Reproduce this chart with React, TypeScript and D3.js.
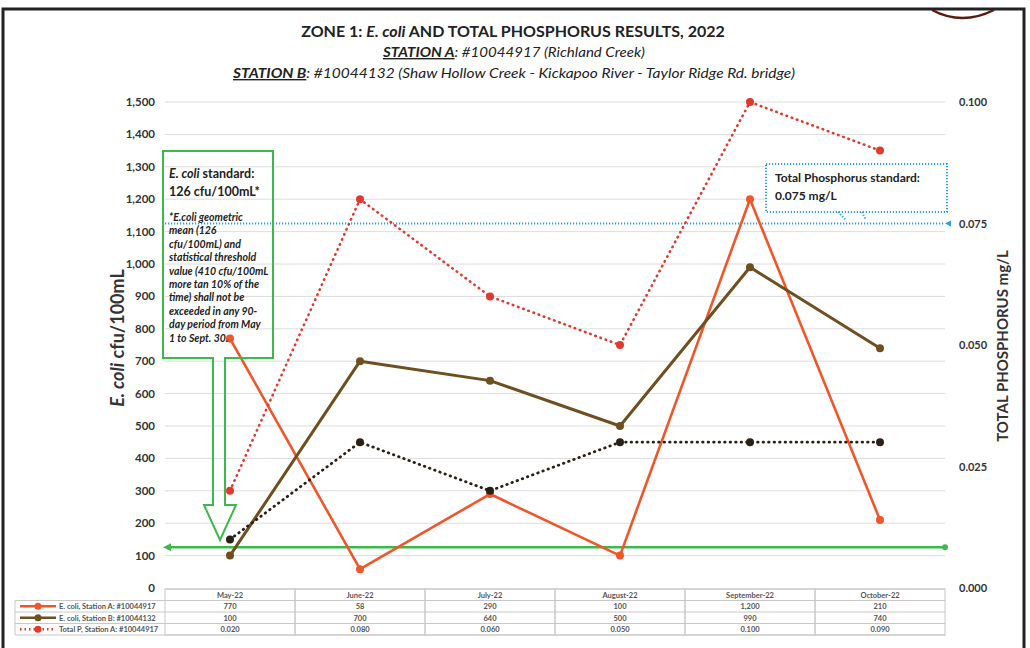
import React from 'react';
import * as d3 from 'd3';

const months = ['May-22', 'June-22', 'July-22', 'August-22', 'September-22', 'October-22'];
const ecoliA = [770, 58, 290, 100, 1200, 210];
const ecoliB = [100, 700, 640, 500, 990, 740];
const totalPA = [0.02, 0.08, 0.06, 0.05, 0.1, 0.09];
const totalPB = [0.01, 0.03, 0.02, 0.03, 0.03, 0.03];
const leftTicks = d3.range(0, 1501, 100);
const rightTicks = [0, 0.025, 0.05, 0.075, 0.1];
const ecoliStandard = 126;
const phosStandard = 0.075;
const footnote = [
  '*E.coli geometric',
  'mean (126',
  'cfu/100mL) and',
  'statistical threshold',
  'value (410 cfu/100mL',
  'more tan 10% of the',
  'time) shall not be',
  'exceeded in any 90-',
  'day period  from May',
  '1 to Sept. 30.',
];

const FONT = 'Lato, "Open Sans", sans-serif';

export default function App() {
  const x = d3.scaleBand<string>().domain(months).range([165, 945]);
  const yL = d3.scaleLinear().domain([0, 1500]).range([588, 102]);
  const yR = d3.scaleLinear().domain([0, 0.1]).range([588, 102]);
  const cx = (m: string) => (x(m) ?? 0) + x.bandwidth() / 2;

  const lineL = d3.line<number>().x((_, i) => cx(months[i])).y(d => yL(d));
  const lineR = d3.line<number>().x((_, i) => cx(months[i])).y(d => yR(d));

  const series = [
    { name: 'E. coli, Station A: #10044917', values: ecoliA, line: lineL, y: yL, color: '#f0562a', dash: undefined, width: 2.6, fmt: d3.format(',') },
    { name: 'E. coli, Station B: #10044132', values: ecoliB, line: lineL, y: yL, color: '#6e4f1f', dash: undefined, width: 3, fmt: d3.format(',') },
    { name: 'Total P, Station A: #10044917', values: totalPA, line: lineR, y: yR, color: '#e03a2e', dash: '0.5 5', width: 2.6, fmt: d3.format('.3f') },
    { name: 'Total P, Station B: #10044132', values: totalPB, line: lineR, y: yR, color: '#2b2015', dash: '0.5 5', width: 2.8, fmt: d3.format('.3f') },
  ];
  const tableRows = series.slice(0, 3);

  const rowTop = 589;
  const rowH = 11.5;
  const tableLeft = 165;
  const tableRight = 945;

  return (
    <svg width={1030} height={648} style={{ position: 'absolute', left: 0, top: 0, background: '#fff' }} fontFamily={FONT}>
      <rect x={0} y={0} width={1030} height={648} fill="#fff" />
      {/* frame */}
      <rect x={3} y={9} width={1021} height={660} fill="none" stroke="#222" strokeWidth={3} />
      <path d="M 932 10 Q 962 26 994 10" fill="none" stroke="#5a1a10" strokeWidth={2.5} />

      {/* title */}
      <text x={513} y={37} textAnchor="middle" fontSize={16} fontWeight={700} fill="#222">
        ZONE 1: <tspan fontStyle="italic">E. coli</tspan> AND TOTAL PHOSPHORUS RESULTS, 2022
      </text>
      <text x={514} y={57} textAnchor="middle" fontSize={14} fontStyle="italic" fill="#222" textLength={262} lengthAdjust="spacingAndGlyphs">
        <tspan fontWeight={700} textDecoration="underline">STATION A</tspan>: #10044917 (Richland Creek)
      </text>
      <text x={514} y={78} textAnchor="middle" fontSize={14} fontStyle="italic" fill="#222" textLength={562} lengthAdjust="spacingAndGlyphs">
        <tspan fontWeight={700} textDecoration="underline">STATION B</tspan>: #10044132 (Shaw Hollow Creek - Kickapoo River - Taylor Ridge Rd. bridge)
      </text>

      {/* gridlines */}
      {leftTicks.slice(1).map(t => (
        <line key={t} x1={165} x2={945} y1={yL(t)} y2={yL(t)} stroke="#dcdcdc" strokeWidth={1} />
      ))}

      {/* left axis */}
      {leftTicks.map(t => (
        <text key={t} x={155} y={yL(t) + 4} textAnchor="end" fontSize={11.5} fontWeight={700} fill="#333">
          {d3.format(',')(t)}
        </text>
      ))}
      <text transform={`translate(124,338) rotate(-90)`} textAnchor="middle" fontSize={18} fontWeight={700} fill="#333">
        <tspan fontStyle="italic">E. coli</tspan> cfu/100mL
      </text>

      {/* right axis */}
      {rightTicks.map(t => (
        <text key={t} x={959} y={yR(t) + 4} textAnchor="start" fontSize={11} fontWeight={700} fill="#333">
          {d3.format('.3f')(t)}
        </text>
      ))}
      <text transform={`translate(1008,346) rotate(-90)`} textAnchor="middle" fontSize={15} fontWeight={700} fill="#333">
        TOTAL PHOSPHORUS mg/L
      </text>

      {/* standards */}
      <line x1={165} x2={945} y1={yR(phosStandard)} y2={yR(phosStandard)} stroke="#2f9fe0" strokeWidth={2} strokeDasharray="1.2 1.8" />
      <path d={`M 945 ${yR(phosStandard)} l 6 -3 v 6 z`} fill="#2f9fe0" />
      <line x1={168} x2={945} y1={yL(ecoliStandard)} y2={yL(ecoliStandard)} stroke="#3cb94a" strokeWidth={2.5} />
      <path d={`M 163 ${yL(ecoliStandard)} l 8 -4 v 8 z`} fill="#3cb94a" />
      <circle cx={945} cy={yL(ecoliStandard)} r={3} fill="#3cb94a" />

      {/* series */}
      {series.map(s => (
        <g key={s.name}>
          <path d={s.line(s.values) ?? ''} fill="none" stroke={s.color} strokeWidth={s.width} strokeDasharray={s.dash} strokeLinecap="round" strokeLinejoin="round" />
          {s.values.map((v, i) => (
            <circle key={i} cx={cx(months[i])} cy={s.y(v)} r={4} fill={s.color} />
          ))}
        </g>
      ))}

      {/* E. coli standard callout */}
      <path d="M 163 151 H 273 V 358 H 225 V 505 H 236 L 220 540 L 204 505 H 213 V 358 H 163 Z" fill="none" stroke="#3cb94a" strokeWidth={2} />
      <text x={169} y={178} fontSize={12.5} fontWeight={700} fill="#222">
        <tspan fontStyle="italic">E. coli</tspan> standard:
      </text>
      <text x={169} y={196} fontSize={12.5} fontWeight={700} fill="#222">126 cfu/100mL*</text>
      {footnote.map((l, i) => (
        <text key={i} x={169} y={221 + i * 13.4} fontSize={10.5} fontWeight={700} fontStyle="italic" fill="#222">{l}</text>
      ))}

      {/* phosphorus standard callout */}
      <rect x={766} y={164} width={181} height={48} fill="#fff" stroke="#2f9fe0" strokeWidth={2} strokeDasharray="1.2 1.8" />
      <path d="M 838 212 L 846 220 M 862 212 L 866 220" stroke="#2f9fe0" strokeWidth={2} strokeDasharray="1.2 1.8" />
      <text x={775} y={182} fontSize={12} fontWeight={700} fill="#222">Total Phosphorus standard:</text>
      <text x={775} y={200} fontSize={12} fontWeight={700} fill="#222">0.075 mg/L</text>

      {/* data table */}
      <g fontSize={7.5} fontWeight={700} fill="#555">
        {months.map(m => (
          <rect key={m} x={x(m)} y={rowTop} width={x.bandwidth()} height={rowH * 4} fill="none" stroke="#c8c8c8" strokeWidth={1} />
        ))}
        {[0, 1, 2, 3, 4].map(r => (
          <line key={r} x1={r === 0 ? tableLeft : 15} x2={tableRight} y1={rowTop + r * rowH} y2={rowTop + r * rowH} stroke="#c8c8c8" strokeWidth={1} />
        ))}
        <line x1={15} x2={15} y1={rowTop + rowH} y2={rowTop + rowH * 4} stroke="#c8c8c8" strokeWidth={1} />
        {months.map(m => (
          <text key={m} x={cx(m)} y={rowTop + 8.5} textAnchor="middle">{m}</text>
        ))}
        {tableRows.map((s, r) => {
          const yy = rowTop + (r + 1) * rowH;
          return (
            <g key={s.name}>
              <line x1={20} x2={56} y1={yy + rowH / 2} y2={yy + rowH / 2} stroke={s.color} strokeWidth={2.5} strokeDasharray={s.dash ? '1.5 3' : undefined} />
              <circle cx={38} cy={yy + rowH / 2} r={3.5} fill={s.color} />
              <text x={59} y={yy + 8.5}>{s.name}</text>
              {s.values.map((v, i) => (
                <text key={i} x={cx(months[i])} y={yy + 8.5} textAnchor="middle">{s.fmt(v)}</text>
              ))}
            </g>
          );
        })}
      </g>
    </svg>
  );
}
